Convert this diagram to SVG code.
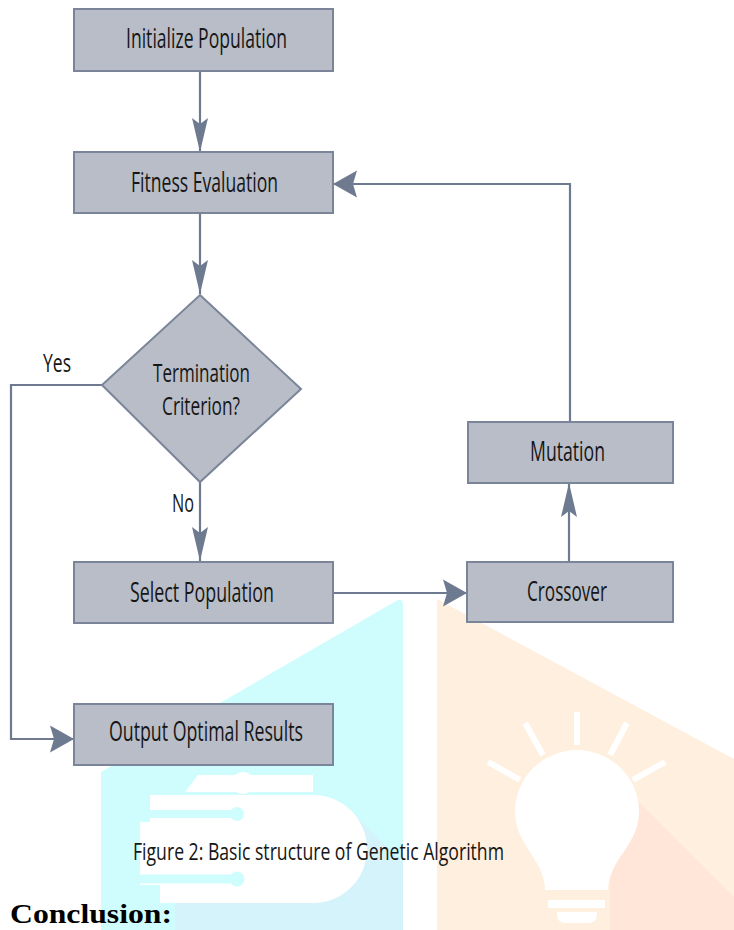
<svg xmlns="http://www.w3.org/2000/svg" width="734" height="930" viewBox="0 0 734 930">
<style>
.box{fill:#B8BDC8;stroke:#7B8599;stroke-width:2}
.lbl{font-family:"Open Sans","DejaVu Sans",sans-serif;fill:#161616;text-anchor:middle}
.con{fill:none;stroke:#6E7A8F;stroke-width:2.2}
.ray{stroke:#ffffff;stroke-width:6}
</style>
<defs>
<marker id="av" markerUnits="userSpaceOnUse" viewBox="0 -9 36 18" markerWidth="36" markerHeight="18" refX="34" refY="0" orient="auto">
<path d="M0,-8 L34,0 L0,8 L6,0 Z" fill="#6E7A8F"/>
</marker>
<marker id="ah" markerUnits="userSpaceOnUse" viewBox="0 -14 26 28" markerWidth="26" markerHeight="28" refX="24" refY="0" orient="auto">
<path d="M0,-13.5 L24,0 L0,13.5 L4,0 Z" fill="#6E7A8F"/>
</marker>
</defs>
<rect x="0" y="0" width="734" height="930" fill="#ffffff"/>
<g id="watermark">
<path d="M101,772 L396,601 Q403,597 403,606 L403,930 L101,930 Z" fill="#CFFCFD"/>
<path d="M360,820 L403,863 L403,930 L175,930 L175,903 Z" fill="#D4F3FA"/>
<path d="M185,792 L198,775 H313 V792 Z" fill="#ffffff"/>
<circle cx="243" cy="783" r="11" fill="#ffffff"/>
<path d="M150,795 H313 A54,54 0 0 1 313,903 H160 V885 H140 V822 H150 Z" fill="#ffffff"/>
<line x1="101" y1="814" x2="236" y2="814" stroke="#CFFCFD" stroke-width="8"/>
<circle cx="237" cy="814" r="7" fill="#CFFCFD"/>
<line x1="101" y1="879" x2="236" y2="879" stroke="#CFFCFD" stroke-width="9"/>
<circle cx="237" cy="879" r="7.5" fill="#CFFCFD"/>
<path d="M437,599 L734,759 L734,930 L437,930 Z" fill="#FFEFDF"/>
<path d="M637,800 L734,897 L734,930 L610,930 L610,880 Z" fill="#FFE6D9"/>
<path d="M545,890 C545,860 515,845 515,812 A62,62 0 1 1 639,812 C639,845 608,860 608,890 Z" fill="#ffffff"/>
<rect x="548" y="900" width="57" height="8" fill="#ffffff"/>
<path d="M557,912 H597 V914 Q597,923 588,923 H566 Q557,923 557,914 Z" fill="#ffffff"/>
<line class="ray" x1="577" y1="712" x2="577" y2="745"/>
<line class="ray" x1="525" y1="723" x2="543" y2="755"/>
<line class="ray" x1="627" y1="723" x2="610" y2="755"/>
<line class="ray" x1="488" y1="762" x2="520" y2="780"/>
<line class="ray" x1="665" y1="762" x2="633" y2="780"/>
</g>
<g id="connectors">
<path class="con" d="M200,71 V152" marker-end="url(#av)"/>
<path class="con" d="M200,213 V294" marker-end="url(#av)"/>
<path class="con" d="M200,482 V561" marker-end="url(#av)"/>
<path class="con" d="M102,385 H11 V739 H74" marker-end="url(#ah)"/>
<path class="con" d="M333,593 H467" marker-end="url(#ah)"/>
<path class="con" d="M569,562 V483" marker-end="url(#av)"/>
<path class="con" d="M570,422 V184 H333" marker-end="url(#ah)"/>
<text class="lbl" x="57" y="372" font-size="26" textLength="28" lengthAdjust="spacingAndGlyphs">Yes</text>
<text class="lbl" x="183" y="512" font-size="25" textLength="22" lengthAdjust="spacingAndGlyphs">No</text>
</g>
<g id="n-init">
<rect class="box" x="74" y="9" width="259" height="62"/>
<text class="lbl" x="206.5" y="48" font-size="27" textLength="161" lengthAdjust="spacingAndGlyphs">Initialize Population</text>
</g>
<g id="n-fitness">
<rect class="box" x="74" y="152" width="259" height="61"/>
<text class="lbl" x="204.5" y="192" font-size="27" textLength="147" lengthAdjust="spacingAndGlyphs">Fitness Evaluation</text>
</g>
<g id="n-term">
<polygon class="box" points="200,295 301,389 200,482 102,385"/>
<text class="lbl" x="201.5" y="382" font-size="26" textLength="97" lengthAdjust="spacingAndGlyphs">Termination</text>
<text class="lbl" x="201" y="415" font-size="26" textLength="78" lengthAdjust="spacingAndGlyphs">Criterion?</text>
</g>
<g id="n-select">
<rect class="box" x="74" y="562" width="259" height="61"/>
<text class="lbl" x="202" y="602" font-size="27" textLength="144" lengthAdjust="spacingAndGlyphs">Select Population</text>
</g>
<g id="n-crossover">
<rect class="box" x="467" y="562" width="206" height="60"/>
<text class="lbl" x="567" y="601" font-size="27" textLength="80" lengthAdjust="spacingAndGlyphs">Crossover</text>
</g>
<g id="n-mutation">
<rect class="box" x="468" y="422" width="205" height="61"/>
<text class="lbl" x="567.5" y="461" font-size="27" textLength="75" lengthAdjust="spacingAndGlyphs">Mutation</text>
</g>
<g id="n-output">
<rect class="box" x="74" y="704" width="259" height="61"/>
<text class="lbl" x="206" y="741" font-size="27" textLength="194" lengthAdjust="spacingAndGlyphs">Output Optimal Results</text>
</g>
<g id="caption">
<text class="lbl" x="318.5" y="860" font-size="24" textLength="371" lengthAdjust="spacingAndGlyphs">Figure 2: Basic structure of Genetic Algorithm</text>
<text x="10" y="923" font-family="'Liberation Serif','Times New Roman',serif" font-weight="bold" font-size="28" fill="#000000" textLength="162" lengthAdjust="spacingAndGlyphs">Conclusion:</text>
</g>
</svg>
